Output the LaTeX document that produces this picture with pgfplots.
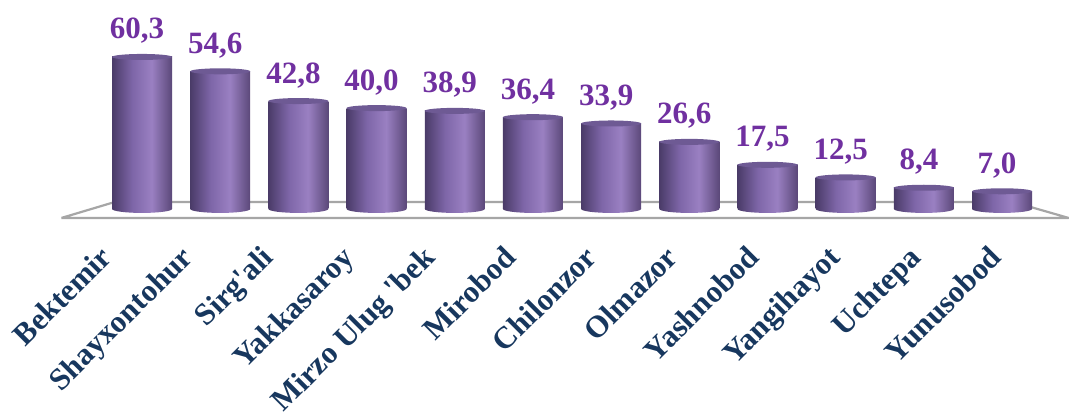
\documentclass[border=0pt]{standalone}
\usepackage{pgfplots}
\pgfplotsset{compat=1.18}
\usepackage{pgfplotstable}
\usepackage{fontspec}
\setmainfont{Liberation Serif}
\newfontfamily\tnr{Liberation Serif}

\definecolor{cylA}{HTML}{4A3B68}
\definecolor{cylB}{HTML}{7E66A8}
\definecolor{cylC}{HTML}{9A80C2}
\definecolor{cylD}{HTML}{5B4879}
\definecolor{topc}{HTML}{6E5A94}
\definecolor{valc}{HTML}{7030A0}
\definecolor{labc}{HTML}{17375E}
\definecolor{floorc}{HTML}{A6A6A6}

\pgfdeclarehorizontalshading{cyl}{100bp}{color(0bp)=(cylA); color(25bp)=(cylA);
  color(42bp)=(cylB); color(58bp)=(cylC); color(75bp)=(cylD); color(100bp)=(cylD)}

% cylinder caps
\pgfdeclareplotmark{cyltop}{%
  \pgfpathellipse{\pgfpointorigin}{\pgfqpoint{30pt}{0pt}}{\pgfqpoint{0pt}{3pt}}%
  \pgfusepathqfill}
\pgfdeclareplotmark{cylbot}{%
  \pgfpathellipse{\pgfpointorigin}{\pgfqpoint{30pt}{0pt}}{\pgfqpoint{0pt}{4pt}}%
  \pgfshadepath{cyl}{0}\pgfusepath{discard}}

\pgfplotstableread{
x  y    base
0  60.3 0
1  54.6 0
2  42.8 0
3  40.0 0
4  38.9 0
5  36.4 0
6  33.9 0
7  26.6 0
8  17.5 0
9  12.5 0
10 8.4  0
11 7.0  0
}\tumanlar

\begin{document}
\begin{tikzpicture}
\begin{axis}[
  name=ax,
  scale only axis,
  width=1007pt, height=219pt,
  xmin=-1.03, xmax=11.85,
  ymin=-4, ymax=82.9,
  clip=false,
  axis line style={draw=none},
  tick style={draw=none},
  ytick=\empty,
  xtick={-0.448,0.587,1.622,2.656,3.691,4.726,5.761,6.796,7.830,8.865,9.900,10.935},
  xticklabels={Bektemir,Shayxontohur,Sirg'ali,Yakkasaroy,Mirzo Ulug 'bek,Mirobod,
    Chilonzor,Olmazor,Yashnobod,Yangihayot,Uchtepa,Yunusobod},
  xticklabel style={font=\tnr\bfseries\fontsize{31}{32}\selectfont, text=labc,
    xshift=-9pt, yshift=-25pt, rotate=45, anchor=north east, inner sep=0pt},
  /pgf/number format/fixed,
  /pgf/number format/fixed zerofill,
  /pgf/number format/precision=1,
  /pgf/number format/use comma,
  /pgf/number format/assume math mode=true,
]
% floor
\addplot[fill=white, draw=floorc, line width=2.2pt, line join=round]
  coordinates {(-1.03,-3.57) (11.85,-3.57) (11.14,2.78) (-0.345,2.78) (-1.03,-3.57)};
% bottoms of the cylinders
\addplot[only marks, mark=cylbot] table[x=x, y=base] {\tumanlar};
% bodies, one plot per bar so that each gets its own shading
\pgfplotsinvokeforeach{0,...,11}{
  \addplot[ybar, bar width=60pt, draw=none, shading=cyl,
    skip coords between index={0}{#1},
    skip coords between index={\the\numexpr#1+1\relax}{12}]
    table[x=x, y=y] {\tumanlar};
}
% tops and values
\addplot[only marks, mark=cyltop, mark options={fill=topc, draw=none},
  nodes near coords,
  every node near coord/.append style={font=\tnr\bfseries\fontsize{31}{31}\selectfont,
    text=valc, anchor=base, yshift=18pt, xshift=-5pt, inner sep=0pt}]
  table[x=x, y=y] {\tumanlar};
\end{axis}
\pgfresetboundingbox
\path[use as bounding box] (ax.south west) ++(-61.5pt,-195pt) rectangle ++(1069pt,414pt);
\end{tikzpicture}
\end{document}
